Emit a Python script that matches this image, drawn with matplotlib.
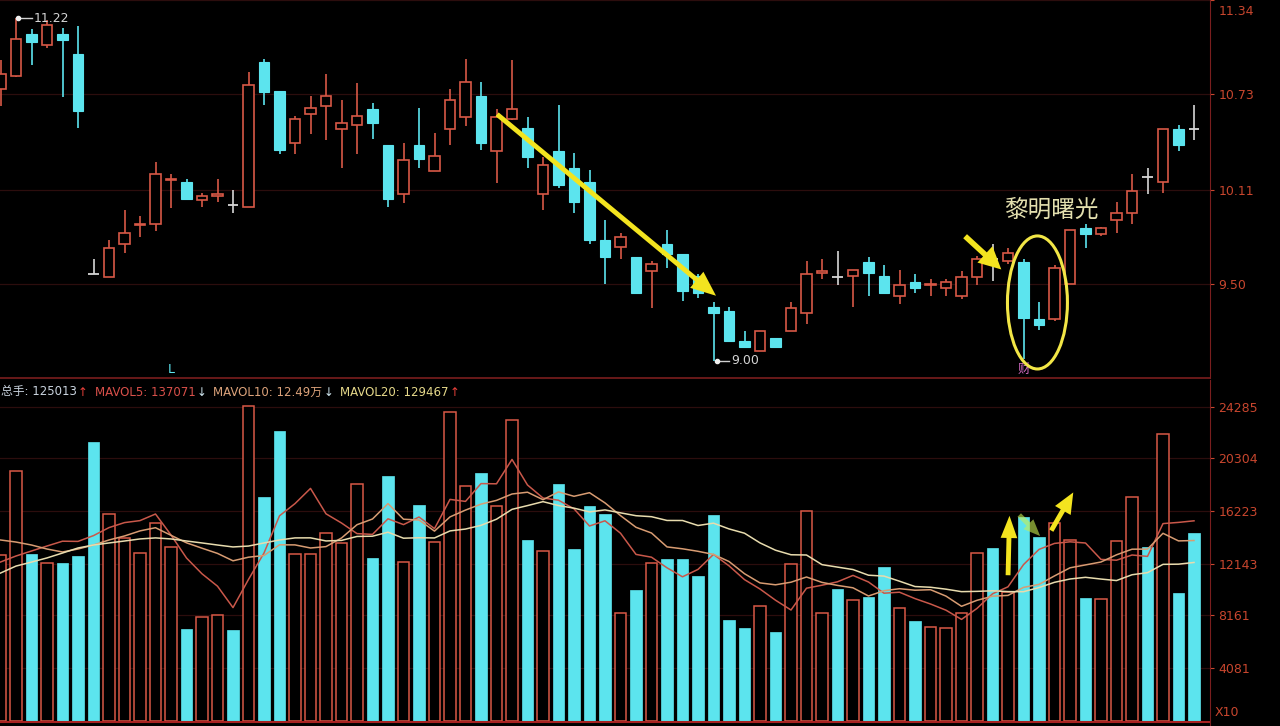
import matplotlib
matplotlib.use('Agg')
import matplotlib.pyplot as plt
from matplotlib.patches import Rectangle, Ellipse, FancyArrowPatch
from matplotlib.transforms import ScaledTranslation
import numpy as np

plt.rcParams['font.family'] = ['DejaVu Sans', 'Noto Sans CJK SC']

# ---------------- data ----------------
opens = [10.76, 10.85, 11.12, 11.05, 11.12, 10.99, 9.56, 9.54, 9.76, 9.88,
         9.89, 10.17, 10.16, 10.04, 10.07, 10.01, 10.00, 10.94, 10.75, 10.41,
         10.60, 10.65, 10.50, 10.53, 10.63, 10.40, 10.08, 10.40, 10.23, 10.50,
         10.58, 10.72, 10.36, 10.57, 10.51, 10.08, 10.36, 10.25, 10.16, 9.78,
         9.74, 9.67, 9.58, 9.76, 9.69, 9.55, 9.35, 9.32, 9.13, 9.06,
         9.15, 9.19, 9.31, 9.57, 9.54, 9.55, 9.64, 9.55, 9.42, 9.51,
         9.49, 9.47, 9.42, 9.54, 9.66, 9.65, 9.64, 9.27, 9.27, 9.50,
         9.86, 9.82, 9.91, 9.96, 10.19, 10.16, 10.50, 10.50]
highs = [10.95, 11.22, 11.15, 11.21, 11.16, 11.17, 9.66, 9.78, 9.98, 9.94,
         10.29, 10.21, 10.18, 10.09, 10.18, 10.11, 10.87, 10.96, 10.75, 10.59,
         10.72, 10.86, 10.69, 10.80, 10.67, 10.40, 10.41, 10.64, 10.48, 10.76,
         10.96, 10.81, 10.63, 10.95, 10.58, 10.32, 10.66, 10.35, 10.24, 9.91,
         9.83, 9.67, 9.65, 9.85, 9.69, 9.56, 9.38, 9.35, 9.19, 9.19,
         9.15, 9.38, 9.65, 9.66, 9.71, 9.59, 9.67, 9.62, 9.59, 9.56,
         9.53, 9.53, 9.58, 9.68, 9.76, 9.73, 9.66, 9.38, 9.62, 9.85,
         9.89, 9.87, 10.03, 10.21, 10.25, 10.50, 10.53, 10.66]
lows = [10.65, 10.84, 10.92, 11.03, 10.71, 10.51, 9.56, 9.54, 9.70, 9.80,
        9.84, 9.99, 10.05, 10.00, 10.03, 9.96, 10.00, 10.66, 10.34, 10.34,
        10.47, 10.43, 10.25, 10.34, 10.44, 10.00, 10.02, 10.25, 10.23, 10.40,
        10.52, 10.37, 10.15, 10.56, 10.25, 9.98, 10.12, 9.96, 9.76, 9.50,
        9.66, 9.44, 9.34, 9.60, 9.39, 9.41, 9.00, 9.13, 9.08, 9.06,
        9.08, 9.19, 9.24, 9.53, 9.49, 9.35, 9.42, 9.44, 9.37, 9.44,
        9.42, 9.42, 9.40, 9.49, 9.52, 9.63, 9.01, 9.20, 9.26, 9.50,
        9.73, 9.81, 9.83, 9.89, 10.08, 10.09, 10.36, 10.43]
closes = [10.86, 11.09, 11.07, 11.18, 11.08, 10.62, 9.56, 9.73, 9.83, 9.89,
          10.21, 10.18, 10.05, 10.07, 10.08, 10.01, 10.79, 10.74, 10.37, 10.57,
          10.64, 10.72, 10.54, 10.59, 10.54, 10.05, 10.30, 10.31, 10.33, 10.69,
          10.81, 10.41, 10.58, 10.63, 10.32, 10.27, 10.14, 10.03, 9.78, 9.67,
          9.80, 9.44, 9.63, 9.69, 9.45, 9.44, 9.31, 9.13, 9.09, 9.19,
          9.09, 9.34, 9.56, 9.58, 9.54, 9.59, 9.57, 9.44, 9.49, 9.47,
          9.50, 9.51, 9.54, 9.66, 9.66, 9.70, 9.28, 9.23, 9.60, 9.85,
          9.82, 9.86, 9.96, 10.10, 10.19, 10.50, 10.40, 10.50]

# volume (x10 lots)
volumes = [12827, 19330, 12904, 12208, 12208, 12749, 21574, 16001, 14143, 12982,
           15304, 13446, 7099, 8027, 8182, 7021, 24361, 17317, 22426, 12904,
           12904, 14530, 13756, 18323, 12595, 18942, 12285, 16697, 13833, 23897,
           18168, 19175, 16620, 23277, 13988, 13137, 18323, 13291, 16620, 16001,
           8337, 10118, 12208, 12517, 12517, 11201, 15923, 7795, 7176, 8879,
           6866, 12130, 16233, 8337, 10195, 9343, 9576, 11898, 8724, 7718,
           7253, 7176, 8337, 12982, 13369, 9960, 15768, 14220, 15304, 13988,
           9498, 9421, 13911, 17317, 13446, 22194, 9885, 14530]
mavol5 = [12285, 12749, 13137, 13523, 13895, 13880, 14329, 14948, 15335, 15490,
          16001, 14375, 12595, 11372, 10412, 8755, 10938, 12982, 15861, 16806,
          17982, 16016, 15304, 14483, 14422, 15629, 15180, 15768, 14870, 17131,
          16976, 18354, 18339, 20227, 18246, 17239, 17069, 16403, 15072, 15474,
          14514, 12873, 12657, 11836, 11139, 11712, 12873, 11991, 10922, 10195,
          9328, 8569, 10257, 10489, 10752, 11248, 10737, 9870, 9947, 9452,
          9034, 8554, 7842, 8693, 9823, 10365, 12083, 13260, 13724, 13848,
          13756, 12486, 12424, 12827, 12719, 15258, 15351, 15474]
mavol10 = [13990, 13830, 13600, 13290, 13060, 13290, 13600, 13990, 14300, 14693,
           14940, 14352, 13771, 13353, 12951, 12378, 12657, 12788, 13617, 13609,
           13369, 13477, 14143, 15172, 15614, 16806, 15598, 15536, 14677, 15776,
           16303, 16767, 17054, 17549, 17688, 17108, 17712, 17371, 17650, 16860,
           15877, 14971, 14530, 13454, 13307, 13113, 12873, 12324, 11379, 10667,
           10520, 10721, 11124, 10706, 10474, 10288, 9653, 10063, 10218, 10102,
           10141, 9645, 8856, 9320, 9638, 9699, 10319, 10551, 11209, 11836,
           12060, 12285, 12842, 13276, 13283, 14507, 13918, 13949]
mavol20 = [11430, 11970, 12280, 12600, 12980, 13370, 13600, 13760, 13910, 14070,
           14150, 14070, 13910, 13760, 13600, 13450, 13520, 13760, 13990, 14151,
           14155, 13915, 13957, 14263, 14282, 14592, 14127, 14162, 14147, 14692,
           14836, 15122, 15598, 16361, 16651, 16957, 16655, 16454, 16163, 16318,
           16090, 15869, 15792, 15501, 15498, 15111, 15292, 14847, 14514, 13764,
           13198, 12846, 12827, 12080, 11890, 11701, 11263, 11194, 10799, 10385,
           10330, 10183, 9990, 10013, 10056, 9994, 9986, 10307, 10713, 10969,
           11100, 10965, 10849, 11298, 11460, 12103, 12118, 12250]

price_ticks = [9.50, 10.11, 10.73, 11.34]
vol_ticks = [4081, 8161, 12143, 16223, 20304, 24285]
header_parts = [("总手: 125013", '#c9d3de'), ("↑", '#e8403a'),
                ("MAVOL5: 137071", '#d9504a'), ("↓", '#cfe6ef'),
                ("MAVOL10: 12.49万", '#dba27a'), ("↓", '#cfe6ef'),
                ("MAVOL20: 129467", '#e6d98a'), ("↑", '#e8403a')]

# ---------------- style ----------------
BG = '#000000'
RED = '#d85846'
CYAN = '#5ce4ee'
DOJI = '#d6d6d6'
AXRED = '#c8462e'
GRID = '#2c0d0d'
SEP = '#7a1e1e'
YEL = '#f3e41f'

W, H = 1280, 726
fig = plt.figure(figsize=(W / 100, H / 100), dpi=100, facecolor=BG)


def fy(py):
    return 1 - py / H


ax = fig.add_axes([0, fy(378), 1210 / W, 378 / H], facecolor=BG)
axv = fig.add_axes([0, 0, 1210 / W, (H - 380) / H], facecolor=BG)

n = len(opens)
idx = np.arange(n)
xl = (-0.5 / 15.5, 1209.5 / 15.5)
bw = 0.70

# ---- candles ----
for i in range(n):
    o, h, l, c = opens[i], highs[i], lows[i], closes[i]
    if c > o:
        ax.vlines(i, l, h, color=RED, lw=1.2, zorder=2)
        ax.add_patch(Rectangle((i - bw / 2, o), bw, c - o, facecolor=BG,
                               edgecolor=RED, lw=1.2, zorder=3))
    elif c < o:
        ax.vlines(i, l, h, color=CYAN, lw=1.2, zorder=2)
        ax.add_patch(Rectangle((i - bw / 2, c), bw, o - c, facecolor=CYAN,
                               edgecolor=CYAN, lw=0.8, zorder=3))
    else:
        ax.vlines(i, l, h, color=DOJI, lw=1.2, zorder=2)
        ax.hlines(c, i - bw / 2, i + bw / 2, color=DOJI, lw=1.3, zorder=3)

ax.set_xlim(*xl)
ax.set_ylim(8.888, 11.322)
for t in price_ticks:
    ax.axhline(t, color=GRID, lw=0.9, zorder=0)
ax.yaxis.tick_right()
ax.set_yticks(price_ticks)
ax.set_yticklabels([f'{t:.2f}' for t in price_ticks])
ax.tick_params(axis='y', colors=AXRED, labelsize=9, length=3, width=0.8, pad=3)
ax.tick_params(axis='x', length=0, labelbottom=False)
top_lab = ax.get_yticklabels()[-1]
top_lab.set_transform(top_lab.get_transform() +
                      ScaledTranslation(0, -7 / 72, fig.dpi_scale_trans))
for s in ['top', 'left']:
    ax.spines[s].set_visible(False)
ax.spines['right'].set_color(SEP)
ax.spines['bottom'].set_color(SEP)
ax.spines['bottom'].set_linewidth(1.2)

# extreme markers
ax.plot([1.1, 2.0], [11.22, 11.22], color='#d0d0d0', lw=1, zorder=4)
ax.plot([1.1], [11.22], 'o', color='#f0f0f0', ms=3, zorder=5)
ax.text(2.15, 11.22, '11.22', color='#d4d4d4', fontsize=9, va='center', ha='left', zorder=5)
ax.plot([46.2, 47.0], [9.00, 9.00], color='#d0d0d0', lw=1, zorder=4)
ax.plot([46.2], [9.00], 'o', color='#f0f0f0', ms=3, zorder=5)
ax.text(47.15, 9.00, '9.00', color='#d4d4d4', fontsize=9, va='center', ha='left', zorder=5)
ax.text(11.0, 8.945, 'L', color=CYAN, fontsize=9, ha='center', va='center')
ax.text(66.0, 8.94, '财', color='#d46cc4', fontsize=9, ha='center', va='center',
        family=['Noto Sans CJK SC'])

# annotations on price panel
ax.add_patch(FancyArrowPatch((31.9, 10.61), (46.3, 9.41),
                             arrowstyle='simple,head_length=1.8,head_width=1.5,tail_width=0.35',
                             mutation_scale=10, color=YEL, zorder=6, lw=0))
ax.add_patch(FancyArrowPatch((62.1, 9.82), (64.7, 9.58),
                             arrowstyle='simple,head_length=1.6,head_width=1.6,tail_width=0.4',
                             mutation_scale=10, color=YEL, zorder=6, lw=0))
ax.add_patch(Ellipse((66.9, 9.378), 3.87, 0.863, fill=False, edgecolor='#f2e646',
                     lw=2.2, zorder=6))
ax.text(67.8, 9.976, '黎明曙光', color='#e3dfae', fontsize=17, ha='center', va='center',
        family=['Noto Sans CJK SC'], zorder=6)

# ---- volume ----
up = np.array(closes) > np.array(opens)
vols = np.array(volumes)
axv.bar(idx[~up], vols[~up], width=0.72, color=CYAN, edgecolor=CYAN, lw=0.5, zorder=2)
axv.bar(idx[up], vols[up], width=0.72, facecolor=BG, edgecolor=RED, lw=1.1, zorder=2)
axv.plot(idx, mavol5, color='#c9584a', lw=1.1, zorder=3)
axv.plot(idx, mavol10, color='#d89c72', lw=1.1, zorder=3)
axv.plot(idx, mavol20, color='#e8dcae', lw=1.1, zorder=3)

axv.set_xlim(*xl)
axv.set_ylim(-410, 26374)
for t in vol_ticks:
    axv.axhline(t, color=GRID, lw=0.9, zorder=0)
axv.axhline(-100, color='#a82222', lw=1.5, zorder=4)
axv.yaxis.tick_right()
axv.set_yticks(vol_ticks)
axv.set_yticklabels([str(t) for t in vol_ticks])
axv.tick_params(axis='y', colors=AXRED, labelsize=9, length=3, width=0.8, pad=3)
axv.tick_params(axis='x', length=0, labelbottom=False)
for s in ['top', 'left', 'bottom']:
    axv.spines[s].set_visible(False)
axv.spines['right'].set_color(SEP)
axv.text(1.004, 673, 'X10', transform=axv.get_yaxis_transform(), color=AXRED,
         fontsize=9, ha='left', va='center')

# volume arrows
axv.add_patch(FancyArrowPatch((65.0, 11046), (65.1, 16078),
                              arrowstyle='simple,head_length=1.6,head_width=1.2,tail_width=0.35',
                              mutation_scale=10, color=YEL, zorder=6, lw=0))
axv.add_patch(FancyArrowPatch((65.6, 16078), (67.2, 14143),
                              arrowstyle='simple,head_length=1.2,head_width=1.0,tail_width=0.35',
                              mutation_scale=10, color='#c8ee50', alpha=0.6, zorder=6, lw=0))
axv.add_patch(FancyArrowPatch((67.7, 14530), (69.3, 17858),
                              arrowstyle='simple,head_length=1.5,head_width=1.3,tail_width=0.35',
                              mutation_scale=10, color=YEL, zorder=6, lw=0))

# header line, pieces chained left to right
renderer = fig.canvas.get_renderer()
xpos = 1.0
for k, (txt, col) in enumerate(header_parts):
    t = fig.text(xpos / W, fy(392), txt, color=col, fontsize=8.5, ha='left', va='center')
    wpx = t.get_window_extent(renderer).width
    is_arrow = txt in ("↑", "↓")
    xpos += wpx + (7 if is_arrow else 1)

fig.savefig('out.png', dpi=100, facecolor=BG)
